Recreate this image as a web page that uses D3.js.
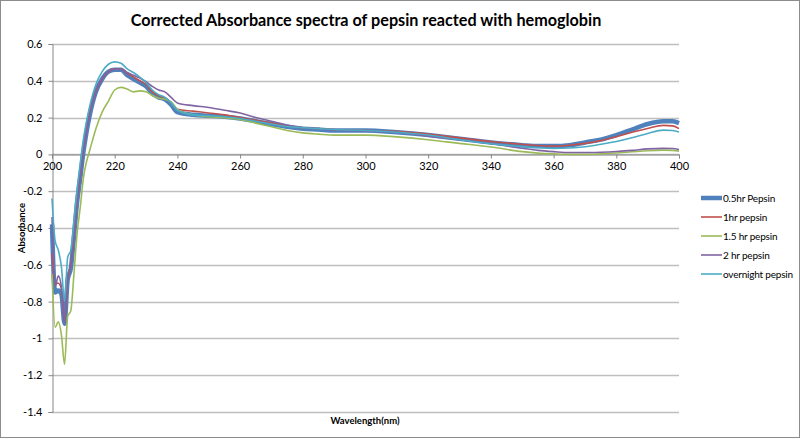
<!DOCTYPE html>
<html>
<head>
<meta charset="utf-8">
<script src="https://cdn.jsdelivr.net/npm/d3@7"></script>
<style>
  body { margin: 0; background: #fff; }
  svg text { font-family: Lato, "Open Sans", sans-serif; fill: #000; }
</style>
</head>
<body>
<svg id="chart" width="800" height="439"></svg>
<script>
// wavelengths shared by every series (nm)
var wavelengths = [200,201,202,203,204,205,206,207,208,209,210,211,212,214,216,218,220,222,224,226,228,230,232,234,236,238,240,245,250,255,260,265,270,275,280,285,290,300,310,320,330,340,350,355,360,365,370,375,380,385,390,395,398,400];

var pepsin05 = [-0.38,-0.75,-0.74,-0.76,-0.92,-0.68,-0.62,-0.45,-0.26,-0.13,0.01,0.12,0.21,0.34,0.41,0.45,0.46,0.46,0.43,0.41,0.39,0.37,0.33,0.31,0.30,0.27,0.23,0.215,0.21,0.205,0.195,0.18,0.165,0.15,0.14,0.135,0.13,0.13,0.12,0.105,0.085,0.065,0.05,0.045,0.045,0.05,0.065,0.08,0.105,0.135,0.165,0.18,0.18,0.17];
var pepsin1 = [-0.54,-0.70,-0.70,-0.73,-0.91,-0.68,-0.60,-0.44,-0.26,-0.12,0.02,0.13,0.22,0.34,0.41,0.45,0.465,0.465,0.44,0.42,0.40,0.38,0.34,0.32,0.305,0.28,0.245,0.235,0.225,0.215,0.2,0.185,0.17,0.155,0.145,0.14,0.135,0.13,0.125,0.11,0.09,0.07,0.055,0.048,0.045,0.05,0.06,0.075,0.096,0.12,0.141,0.158,0.155,0.14];
var pepsin15 = [-0.65,-0.94,-0.91,-0.98,-1.14,-0.88,-0.85,-0.65,-0.43,-0.29,-0.13,-0.04,0.02,0.14,0.23,0.29,0.35,0.364,0.355,0.34,0.345,0.34,0.32,0.305,0.30,0.285,0.245,0.215,0.205,0.20,0.19,0.17,0.15,0.13,0.117,0.11,0.105,0.105,0.095,0.08,0.06,0.04,0.015,0.007,0.003,0.0,0.0,0.003,0.008,0.014,0.02,0.023,0.022,0.018];
var pepsin2 = [-0.34,-0.72,-0.66,-0.72,-0.92,-0.66,-0.60,-0.44,-0.26,-0.12,0.02,0.13,0.22,0.34,0.41,0.45,0.465,0.465,0.445,0.43,0.415,0.395,0.37,0.35,0.34,0.31,0.28,0.265,0.255,0.24,0.225,0.2,0.18,0.16,0.145,0.138,0.133,0.128,0.12,0.1,0.08,0.06,0.033,0.022,0.015,0.01,0.01,0.012,0.016,0.022,0.03,0.033,0.032,0.027];
var pepsinNight = [-0.24,-0.47,-0.52,-0.61,-0.80,-0.56,-0.52,-0.36,-0.19,-0.05,0.08,0.18,0.26,0.38,0.45,0.49,0.503,0.495,0.465,0.445,0.42,0.39,0.35,0.325,0.31,0.28,0.24,0.215,0.21,0.205,0.195,0.18,0.165,0.152,0.145,0.14,0.135,0.13,0.12,0.105,0.08,0.058,0.042,0.036,0.033,0.035,0.042,0.055,0.07,0.09,0.114,0.132,0.13,0.122];

var seriesNames = ['0.5hr Pepsin', '1hr pepsin', '1.5 hr pepsin', '2 hr pepsin', 'overnight pepsin'];
var xTicks = [200,220,240,260,280,300,320,340,360,380,400];
var yTicks = [0.6,0.4,0.2,0,-0.2,-0.4,-0.6,-0.8,-1,-1.2,-1.4];

var series = [
  {name: seriesNames[0], values: pepsin05, color: '#4F81BD', width: 4.5},
  {name: seriesNames[1], values: pepsin1, color: '#C0504D', width: 1.6},
  {name: seriesNames[2], values: pepsin15, color: '#9BBB59', width: 1.6},
  {name: seriesNames[3], values: pepsin2, color: '#8064A2', width: 1.6},
  {name: seriesNames[4], values: pepsinNight, color: '#4BACC6', width: 1.6}
];

var svg = d3.select('#chart');
var plot = {left: 52, right: 679, top: 44, bottom: 412};

var x = d3.scaleLinear().domain([200, 400]).range([plot.left, plot.right]);
var y = d3.scaleLinear().domain([-1.4, 0.6]).range([plot.bottom, plot.top]);

// outer border
svg.append('rect')
  .attr('x', 0.5).attr('y', 0.5)
  .attr('width', 799).attr('height', 437)
  .attr('fill', '#fff')
  .attr('stroke', '#8c8c8c');

// gridlines
svg.append('g')
  .selectAll('line')
  .data(yTicks)
  .join('line')
  .attr('x1', plot.left).attr('x2', plot.right)
  .attr('y1', function(d) { return Math.round(y(d)) + 0.5; })
  .attr('y2', function(d) { return Math.round(y(d)) + 0.5; })
  .attr('stroke', '#bfbfbf')
  .attr('stroke-width', 1.3);

// y axis
var yAxis = svg.append('g')
  .attr('transform', 'translate(' + (plot.left + 0.5) + ',0)')
  .call(d3.axisLeft(y).tickValues(yTicks).tickSize(4).tickPadding(6)
    .tickFormat(function(d) { return String(+d.toFixed(1)); }));
yAxis.selectAll('path, line').attr('stroke', '#868686');
yAxis.selectAll('text').style('font-size', '11px');

// x axis at zero
var xAxis = svg.append('g')
  .attr('transform', 'translate(0,' + (Math.round(y(0)) + 0.5) + ')')
  .call(d3.axisBottom(x).tickValues(xTicks).tickSize(4).tickPadding(4));
xAxis.select('.domain').attr('stroke', '#868686');
xAxis.selectAll('line').attr('stroke', '#868686');
xAxis.selectAll('text').style('font-size', '11px');

// lines
var line = d3.line()
  .x(function(d) { return x(d[0]); })
  .y(function(d) { return y(d[1]); })
  .curve(d3.curveMonotoneX);

svg.append('g')
  .selectAll('path')
  .data(series)
  .join('path')
  .attr('fill', 'none')
  .attr('stroke', function(d) { return d.color; })
  .attr('stroke-width', function(d) { return d.width; })
  .attr('stroke-linejoin', 'round')
  .attr('d', function(d) {
    return line(d.values.map(function(v, i) { return [wavelengths[i], v]; }));
  });

// title
svg.append('text')
  .attr('x', 366).attr('y', 26)
  .attr('text-anchor', 'middle')
  .style('font-size', '16.2px')
  .style('font-weight', 'bold')
  .text('Corrected Absorbance spectra of pepsin reacted with hemoglobin');

// axis titles
svg.append('text')
  .attr('transform', 'translate(25,228) rotate(-90)')
  .attr('text-anchor', 'middle')
  .style('font-size', '9.5px')
  .style('font-weight', 'bold')
  .text('Absorbance');

svg.append('text')
  .attr('x', 365).attr('y', 424)
  .attr('text-anchor', 'middle')
  .style('font-size', '9.5px')
  .style('font-weight', 'bold')
  .text('Wavelength(nm)');

// legend
var legend = svg.append('g')
  .selectAll('g')
  .data(series)
  .join('g')
  .attr('transform', function(d, i) { return 'translate(701,' + (198 + i * 19) + ')'; });

legend.append('line')
  .attr('x1', 0).attr('x2', 21)
  .attr('stroke', function(d) { return d.color; })
  .attr('stroke-width', function(d) { return d.width; });

legend.append('text')
  .attr('x', 22).attr('dy', '0.35em')
  .style('font-size', '10px')
  .style('letter-spacing', '-0.2px')
  .text(function(d) { return d.name; });
</script>
</body>
</html>
